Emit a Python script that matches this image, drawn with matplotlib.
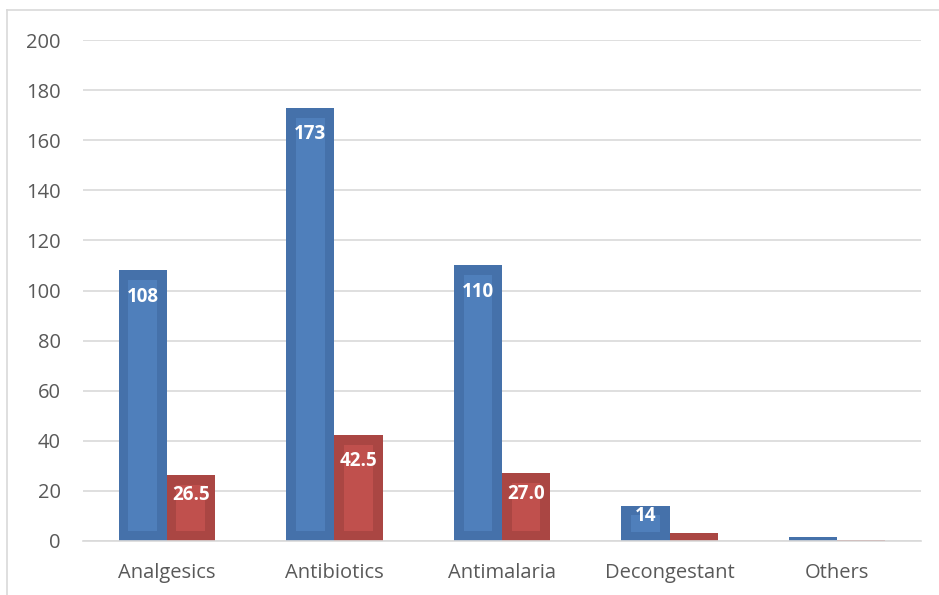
import numpy as np
import matplotlib.pyplot as plt
from matplotlib.lines import Line2D

categories = ["Analgesics", "Antibiotics", "Antimalaria", "Decongestant", "Others"]
counts = [108, 173, 110, 14, 1.5]
percents = [26.5, 42.5, 27.0, 3.0, 0.4]
count_labels = ["108", "173", "110", "14", ""]
percent_labels = ["26.5", "42.5", "27.0", "", ""]
y_ticks = [0, 20, 40, 60, 80, 100, 120, 140, 160, 180, 200]

blue_outer, blue_inner = "#4571AA", "#4F7FBB"
red_outer, red_inner = "#AA4643", "#C0504D"
text_grey = "#595959"
font = ["Open Sans", "DejaVu Sans"]

fig = plt.figure(figsize=(9.39, 5.95), dpi=100)
ax = fig.add_axes([83 / 939, 54 / 595, 838 / 939, 501 / 595])

# light frame round the chart area (top and left edges show)
fig.add_artist(Line2D([7 / 939, 1.0], [1 - 10 / 595] * 2, color="#D9D9D9", lw=1.2,
                      transform=fig.transFigure))
fig.add_artist(Line2D([7 / 939] * 2, [0, 1 - 10 / 595], color="#D9D9D9", lw=1.2,
                      transform=fig.transFigure))

x = np.arange(len(categories))
w = 0.287


def bevel_bars(xs, vals, outer, inner):
    ax.bar(xs, vals, w, color=outer, zorder=2)
    for xi, v in zip(xs, vals):
        inset_y = min(4.0, v * 0.25)
        inset_x = min(0.06, w * 0.2)
        if v > 6:
            ax.bar(xi, v - 2 * inset_y, w - 2 * inset_x, bottom=inset_y,
                   color=inner, zorder=3)


bevel_bars(x - w / 2, counts, blue_outer, blue_inner)
bevel_bars(x + w / 2, percents, red_outer, red_inner)


def put_labels(xs, vals, labels):
    for xi, v, lab in zip(xs, vals, labels):
        if not lab:
            continue
        y = v - 10.4 if v > 30 else v * 0.7
        ax.text(xi, y, lab, ha="center", va="center", color="white",
                fontsize=13.5, fontweight="bold", family=font, zorder=4)


put_labels(x - w / 2, counts, count_labels)
put_labels(x + w / 2, percents, percent_labels)

ax.set_xlim(-0.5, len(categories) - 0.5)
ax.set_ylim(0, 200)
ax.set_yticks(y_ticks)
ax.set_xticks(x)
ax.set_xticklabels(categories)
ax.yaxis.grid(True, color="#D9D9D9", lw=1.2, zorder=0)
ax.set_axisbelow(True)
for s in ["top", "right", "left"]:
    ax.spines[s].set_visible(False)
ax.spines["bottom"].set_color("#D9D9D9")
ax.spines["bottom"].set_linewidth(1.2)
ax.tick_params(length=0, colors=text_grey, labelsize=14.5)
ax.tick_params(axis="y", pad=16)
ax.tick_params(axis="x", pad=16)
for t in ax.get_xticklabels() + ax.get_yticklabels():
    t.set_family(font)

fig.savefig("out.png", dpi=100)
